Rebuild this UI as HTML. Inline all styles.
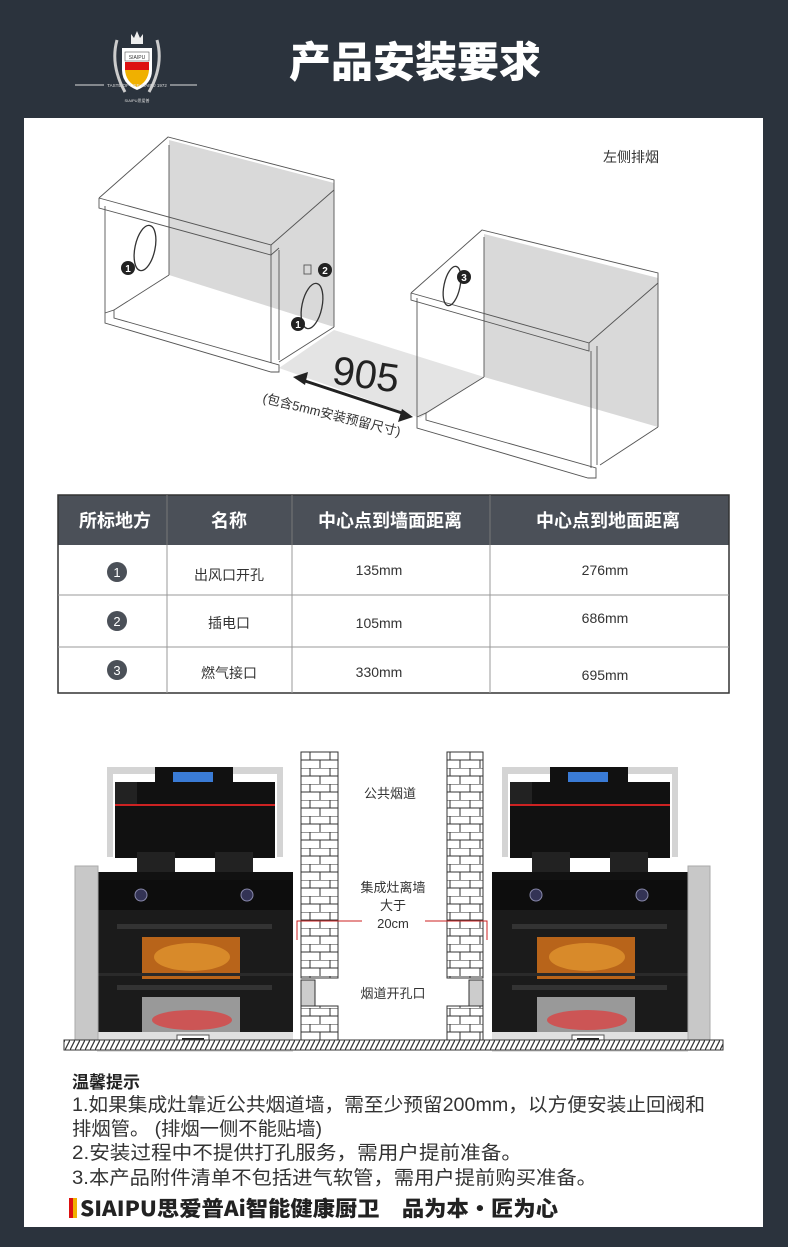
<!DOCTYPE html>
<html><head><meta charset="utf-8"><style>
html,body{margin:0;padding:0;background:#2b333d;}
body{width:788px;height:1247px;position:relative;overflow:hidden;font-family:"Liberation Sans","Noto Sans CJK SC",sans-serif;}
</style></head><body>
<svg width="788" height="1247" viewBox="0 0 788 1247" xmlns="http://www.w3.org/2000/svg" style="position:absolute;left:0;top:0" font-family="Liberation Sans, Noto Sans CJK SC, sans-serif">
<rect width="788" height="1247" fill="#2b333d"/>
<!-- logo -->
<g>
<path d="M122 48 L152 48 L152 70 Q152 84 137 90 Q122 84 122 70 Z" fill="#fff"/>
<rect x="125" y="62" width="24" height="8" fill="#d11"/>
<path d="M125 70 L149 70 Q148 82 137 87 Q126 82 125 70Z" fill="#f0b000"/>
<rect x="125" y="52" width="24" height="9" fill="#fff" stroke="#333" stroke-width="0.5"/>
<text x="137" y="59" font-size="5" text-anchor="middle" fill="#333">SIAIPU</text>
<path d="M117 40 Q110 65 125 92 M157 40 Q164 65 149 92" stroke="#ccc" stroke-width="3" fill="none"/>
<path d="M131 44 L131 34 L134 38 L137 31 L140 38 L143 34 L143 44 Z" fill="#eee"/>
<line x1="75" y1="85" x2="104" y2="85" stroke="#ddd"/>
<line x1="170" y1="85" x2="197" y2="85" stroke="#ddd"/>
<text x="137" y="87" font-size="4.5" text-anchor="middle" fill="#ddd">TASTE OF LIFE SIAIPU 1972</text>
<text x="137" y="102" font-size="4" text-anchor="middle" fill="#ddd">SIAIPU思爱普</text>
</g>
<text x="415" y="77" font-size="42" font-weight="900" fill="#fff" text-anchor="middle" font-family="Noto Sans CJK SC, sans-serif">产品安装要求</text>
<!-- panel -->
<rect x="24" y="118" width="739" height="1109" fill="#fff"/>
<!-- drawing -->
<g stroke="#555" stroke-width="0.9" fill="none">
<polygon points="279,368 334,330 484,377 420,418" fill="#e4e4e4" stroke="none"/>
<polygon points="169,140 334,183 334,327 169,275" fill="#d9d9d9" stroke="none"/>
<polygon points="484,234 658,278 658,427 484,377" fill="#d9d9d9" stroke="none"/>
<line x1="169" y1="145" x2="169" y2="275"/>
<line x1="334" y1="190" x2="334" y2="327"/>
<polyline points="99,198 168,137 334,180 334,190"/>
<polyline points="99,198 99,208 271,255 271,245 99,198"/>
<line x1="271" y1="245" x2="334" y2="190"/>
<line x1="271" y1="255" x2="279" y2="248"/>
<line x1="105" y1="206" x2="105" y2="313"/>
<line x1="271" y1="255" x2="271" y2="363"/>
<line x1="279" y1="250" x2="279" y2="360"/>
<polyline points="105,313 114,310 114,318 279,365 279,372 271,372 105,323 105,313"/>
<line x1="169" y1="275" x2="114" y2="310"/>
<line x1="334" y1="327" x2="279" y2="362"/>
<line x1="484" y1="237" x2="484" y2="377"/>
<line x1="658" y1="283" x2="658" y2="427"/>
<polyline points="411,293 482,230 658,273 658,283"/>
<polyline points="411,293 411,300 589,351 589,343 411,293"/>
<line x1="589" y1="343" x2="658" y2="283"/>
<line x1="417" y1="298" x2="417" y2="417"/>
<line x1="591" y1="351" x2="591" y2="468"/>
<line x1="597" y1="346" x2="597" y2="465"/>
<polyline points="417,417 426,413 426,420 596,468 596,478 588,478 417,428 417,417"/>
<line x1="484" y1="377" x2="426" y2="413"/>
<line x1="658" y1="427" x2="600" y2="465"/>
<ellipse cx="145" cy="248" rx="10" ry="23" transform="rotate(12 145 248)" stroke="#333" stroke-width="1.3"/>
<ellipse cx="312" cy="306" rx="10" ry="23" transform="rotate(12 312 306)" stroke="#333" stroke-width="1.3"/>
<ellipse cx="452" cy="286" rx="8" ry="20" transform="rotate(12 452 286)" stroke="#333" stroke-width="1.3"/>
<rect x="304" y="265" width="7" height="9"/>
</g>
<g font-size="10" font-weight="bold" fill="#fff" text-anchor="middle">
<circle cx="128" cy="268" r="7" fill="#222"/><text x="128" y="272">1</text>
<circle cx="298" cy="324" r="7" fill="#222"/><text x="298" y="328">1</text>
<circle cx="325" cy="270" r="7" fill="#222"/><text x="325" y="274">2</text>
<circle cx="464" cy="277" r="7" fill="#222"/><text x="464" y="281">3</text>
</g>
<text x="364" y="388" font-size="40" fill="#222" text-anchor="middle" transform="rotate(8 364 388)">905</text>
<line x1="302" y1="380" x2="405" y2="414" stroke="#222" stroke-width="3"/>
<polygon points="293,377 308,372 305,385" fill="#222"/>
<polygon points="413,417 398,422 402,409" fill="#222"/>
<text x="262" y="402" font-size="13" fill="#333" transform="rotate(14 262 402)">(包含5mm安装预留尺寸)</text>
<text x="603" y="162" font-size="14" fill="#333">左侧排烟</text>
<!-- table -->
<rect x="58" y="495" width="671" height="50" fill="#4b5058"/>
<rect x="58" y="495" width="671" height="198" fill="none" stroke="#333" stroke-width="1.5"/>
<g stroke="#999" stroke-width="1">
<line x1="167" y1="545" x2="167" y2="693"/><line x1="292" y1="545" x2="292" y2="693"/><line x1="490" y1="545" x2="490" y2="693"/>
<line x1="58" y1="595" x2="729" y2="595"/><line x1="58" y1="647" x2="729" y2="647"/>
</g>
<g stroke="#777" stroke-width="1"><line x1="167" y1="495" x2="167" y2="545"/><line x1="292" y1="495" x2="292" y2="545"/><line x1="490" y1="495" x2="490" y2="545"/></g>
<g font-size="18" font-weight="bold" fill="#fff" text-anchor="middle" font-family="Noto Sans CJK SC, sans-serif">
<text x="115" y="527">所标地方</text><text x="229" y="527">名称</text><text x="390" y="527">中心点到墙面距离</text><text x="608" y="527">中心点到地面距离</text>
</g>
<g font-size="14" fill="#333" text-anchor="middle">
<circle cx="117" cy="572" r="10" fill="#4b5058"/><text x="117" y="577" fill="#fff" font-size="13">1</text>
<circle cx="117" cy="621" r="10" fill="#4b5058"/><text x="117" y="626" fill="#fff" font-size="13">2</text>
<circle cx="117" cy="670" r="10" fill="#4b5058"/><text x="117" y="675" fill="#fff" font-size="13">3</text>
<text x="229" y="580">出风口开孔</text><text x="229" y="628">插电口</text><text x="229" y="678">燃气接口</text>
<text x="379" y="575">135mm</text><text x="379" y="628">105mm</text><text x="379" y="677">330mm</text>
<text x="605" y="575">276mm</text><text x="605" y="623">686mm</text><text x="605" y="680">695mm</text>
</g>
<!-- stoves -->
<defs>
<pattern id="brick" width="20" height="16" patternUnits="userSpaceOnUse">
<rect width="20" height="16" fill="#fff"/>
<path d="M0 0H20M0 8H20M10 0V8M0 8V16M20 8V16" stroke="#333" stroke-width="1"/>
</pattern>
<pattern id="hatch" width="5" height="10" patternUnits="userSpaceOnUse">
<rect width="5" height="10" fill="#fff"/><path d="M0 10L5 0" stroke="#333" stroke-width="1.2"/>
</pattern>
<g id="stove">
<rect x="10" y="15" width="176" height="90" fill="#d4d4d4"/>
<rect x="16" y="22" width="164" height="83" fill="#fff"/>
<rect x="58" y="15" width="78" height="22" fill="#111"/>
<rect x="76" y="20" width="40" height="11" fill="#3a7bd5"/>
<rect x="62" y="43" width="70" height="3" fill="#eee"/>
<polygon points="18,30 40,30 40,52 18,52" fill="#222"/>
<rect x="40" y="30" width="138" height="22" fill="#111"/>
<rect x="18" y="52" width="160" height="2" fill="#c22"/>
<rect x="18" y="54" width="160" height="52" fill="#111"/>
<rect x="40" y="100" width="38" height="20" fill="#222"/>
<rect x="118" y="100" width="38" height="20" fill="#222"/>
<rect x="0" y="120" width="196" height="8" fill="#111"/>
<rect x="0" y="128" width="196" height="30" fill="#0d0d0d"/>
<circle cx="44" cy="143" r="6" fill="#335" stroke="#88a"/><circle cx="150" cy="143" r="6" fill="#335" stroke="#88a"/>
<rect x="0" y="158" width="196" height="122" fill="#1b1b1b"/>
<rect x="20" y="172" width="155" height="5" fill="#333"/>
<rect x="45" y="185" width="98" height="42" fill="#b8641a"/>
<ellipse cx="95" cy="205" rx="38" ry="14" fill="#d88a2a"/>
<rect x="0" y="221" width="196" height="3" fill="#2a2a2a"/>
<rect x="20" y="233" width="155" height="5" fill="#333"/>
<rect x="45" y="245" width="98" height="35" fill="#999"/>
<ellipse cx="95" cy="268" rx="40" ry="10" fill="#c55"/>
<rect x="0" y="280" width="196" height="20" fill="#e0e0e0"/>
<rect x="80" y="283" width="32" height="12" fill="#fff" stroke="#555"/><rect x="85" y="286" width="22" height="6" fill="#222"/>
</g>
</defs>
<use href="#stove" x="97" y="752"/>
<rect x="75" y="866" width="23" height="174" fill="#c8c8c8" stroke="#aaa"/>
<use href="#stove" x="492" y="752"/>
<rect x="688" y="866" width="22" height="174" fill="#c8c8c8" stroke="#aaa"/>
<rect x="301" y="752" width="37" height="226" fill="url(#brick)" stroke="#333"/>
<rect x="301" y="1006" width="37" height="34" fill="url(#brick)" stroke="#333"/>
<rect x="447" y="752" width="36" height="226" fill="url(#brick)" stroke="#333"/>
<rect x="447" y="1006" width="36" height="34" fill="url(#brick)" stroke="#333"/>
<rect x="301" y="980" width="14" height="26" fill="#ccc" stroke="#333"/>
<rect x="469" y="980" width="14" height="26" fill="#ccc" stroke="#333"/>
<rect x="64" y="1040" width="659" height="10" fill="url(#hatch)" stroke="#333"/>
<g stroke="#c22" stroke-width="1" fill="none">
<polyline points="362,921 297,921 297,940"/><polyline points="425,921 487,921 487,940"/>
</g>
<g font-size="13" fill="#333" text-anchor="middle">
<text x="390" y="798">公共烟道</text>
<text x="393" y="892">集成灶离墙</text>
<text x="393" y="910">大于</text>
<text x="393" y="928">20cm</text>
<text x="393" y="998">烟道开孔口</text>
</g>
<!-- tips -->
<text x="72" y="1088" font-size="17" font-weight="bold" fill="#222">温馨提示</text>
<g font-size="19" fill="#333">
<text x="72" y="1111" textLength="633" lengthAdjust="spacingAndGlyphs">1.如果集成灶靠近公共烟道墙，需至少预留200mm，以方便安装止回阀和</text>
<text x="72" y="1135" textLength="250" lengthAdjust="spacingAndGlyphs">排烟管。 (排烟一侧不能贴墙)</text>
<text x="72" y="1159" textLength="450" lengthAdjust="spacingAndGlyphs">2.安装过程中不提供打孔服务，需用户提前准备。</text>
<text x="72" y="1184" textLength="525" lengthAdjust="spacingAndGlyphs">3.本产品附件清单不包括进气软管，需用户提前购买准备。</text>
</g>
<rect x="69" y="1198" width="6" height="20" fill="#d11"/><rect x="73" y="1198" width="4" height="20" fill="#f0b000"/>
<text x="80" y="1216" font-size="21" font-weight="900" fill="#222" textLength="478" lengthAdjust="spacingAndGlyphs" font-family="Noto Sans CJK SC, sans-serif">SIAIPU思爱普Ai智能健康厨卫　品为本·匠为心</text>
</svg>
</body></html>
